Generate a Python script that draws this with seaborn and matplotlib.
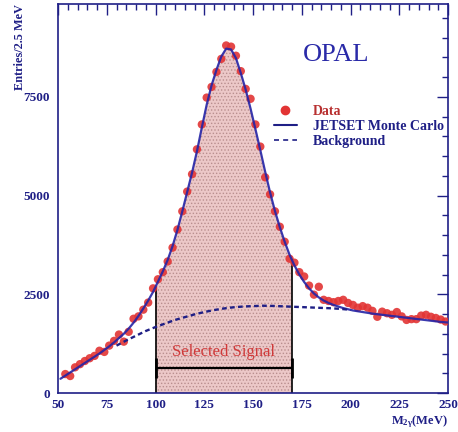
import numpy as np
import pandas as pd
import matplotlib
matplotlib.use("Agg")
import matplotlib.pyplot as plt
import seaborn as sns
from matplotlib.lines import Line2D
from matplotlib.legend_handler import HandlerLine2D
from matplotlib.ticker import MultipleLocator

# ---- data -----------------------------------------------------------------
BIN_WIDTH = 2.5                      # MeV per bin
data_x = np.arange(53.75, 250.0, BIN_WIDTH)
data_y = [
    480, 430, 650, 730, 810, 880, 940, 1070, 1040, 1200,
    1320, 1480, 1300, 1550, 1880, 1940, 2110, 2290, 2650, 2880,
    3060, 3330, 3680, 4140, 4600, 5100, 5540, 6170, 6800, 7480,
    7750, 8130, 8460, 8800, 8770, 8540, 8150, 7700, 7450, 6800,
    6240, 5460, 5030, 4600, 4210, 3830, 3400, 3300, 3060, 2950,
    2720, 2490, 2690, 2360, 2330, 2300, 2330, 2360, 2280, 2230,
    2160, 2200, 2160, 2080, 1930, 2060, 2020, 1980, 2050, 1940,
    1850, 1870, 1870, 1960, 1980, 1930, 1900, 1860, 1810,
]

mc_x = np.append(np.arange(51.25, 250.0, BIN_WIDTH), 250.0)
mc_y = [
    360, 440, 520, 600, 680, 760, 840, 920, 1000, 1090,
    1180, 1280, 1390, 1500, 1630, 1780, 1950, 2140, 2340, 2560,
    2820, 3080, 3370, 3720, 4130, 4600, 5090, 5580, 6120, 6720,
    7300, 7790, 8180, 8520, 8720, 8700, 8480, 8100, 7680, 7200,
    6680, 6150, 5600, 5080, 4610, 4200, 3830, 3500, 3230, 3000,
    2810, 2650, 2520, 2420, 2340, 2280, 2230, 2190, 2150, 2120,
    2090, 2070, 2050, 2030, 2010, 1995, 1980, 1965, 1950, 1935,
    1920, 1905, 1890, 1875, 1860, 1845, 1830, 1815, 1800, 1790,
    1785,
]

bkg_x = np.arange(80, 201, 5)
bkg_y = [
    1200, 1330, 1450, 1570, 1670, 1760, 1850, 1920, 1990, 2050,
    2100, 2140, 2170, 2190, 2200, 2210, 2205, 2195, 2185, 2175,
    2165, 2155, 2145, 2130, 2105,
]

signal_window = (100, 170)           # selected M_2gamma range (MeV)
legend_labels = ["Data", "JETSET Monte Carlo", "Background"]

x_ticks = [50, 75, 100, 125, 150, 175, 200, 225, 250]
y_ticks = [0, 2500, 5000, 7500]

# ---- style ----------------------------------------------------------------
NAVY = "#1f1f86"
BLUE = "#2424a6"
RED = "#e23434"

sns.set_theme(style="white")
plt.rcParams["font.family"] = ["Liberation Serif", "DejaVu Serif"]
plt.rcParams["mathtext.fontset"] = "custom"
plt.rcParams["mathtext.rm"] = "Liberation Serif:bold"
plt.rcParams["mathtext.it"] = "Liberation Serif:bold"
plt.rcParams["mathtext.bf"] = "Liberation Serif:bold"
plt.rcParams["hatch.linewidth"] = 0.6

df_data = pd.DataFrame({"m": data_x, "n": data_y})
df_mc = pd.DataFrame({"m": mc_x, "n": mc_y})
df_bkg = pd.DataFrame({"m": bkg_x, "n": bkg_y})

fig = plt.figure(figsize=(4.58, 4.32), dpi=100)
ax = fig.add_axes([58 / 458, 1 - 393 / 432, 390 / 458, 389 / 432])

# shaded signal region under the Monte Carlo curve
lo, hi = signal_window
mc_x_arr = np.asarray(mc_x, float)
mc_y_arr = np.asarray(mc_y, float)
inside = (mc_x_arr > lo) & (mc_x_arr < hi)
fx = np.concatenate([[lo], mc_x_arr[inside], [hi]])
fy = np.interp(fx, mc_x_arr, mc_y_arr)
ax.fill_between(fx, 0, fy, facecolor="#ecc8c8", hatch=".....",
                edgecolor="#b98f8f", linewidth=0, zorder=1)
ax.vlines([lo, hi], 0, np.interp([lo, hi], mc_x_arr, mc_y_arr),
          color="black", lw=1.2, zorder=2)

# data, total MC and background
sns.scatterplot(data=df_data, x="m", y="n", ax=ax, color=RED, s=36,
                edgecolor="none", alpha=0.9, zorder=3, legend=False)
sns.lineplot(data=df_mc, x="m", y="n", ax=ax, color=BLUE, lw=1.6,
             errorbar=None, alpha=0.9, zorder=4)
sns.lineplot(data=df_bkg, x="m", y="n", ax=ax, color=NAVY, lw=1.7,
             errorbar=None, linestyle=(0, (2.0, 1.4)), zorder=4)

# selected-signal marker
mid = 0.5 * (lo + hi)
ax.errorbar(mid, 640, xerr=0.5 * (hi - lo), fmt="none", ecolor="black",
            elinewidth=1.6, capsize=7, capthick=2.0, zorder=5)
ax.text(mid, 1040, "Selected Signal", ha="center", va="center",
        color="#d03a3a", fontsize=12, zorder=6)

ax.text(192.8, 8550, "OPAL", ha="center", va="center", color="#2a2aa8",
        fontsize=19)

# axes
ax.set_xlim(50, 250)
ax.set_ylim(0, 9850)
ax.set_xticks(x_ticks)
ax.set_yticks(y_ticks)
ax.xaxis.set_minor_locator(MultipleLocator(5))
ax.yaxis.set_minor_locator(MultipleLocator(500))
ax.tick_params(which="both", direction="in", top=True, right=True,
               color=NAVY, width=1.0, labelcolor=NAVY, labelsize=9.5)
ax.tick_params(which="major", length=8)
ax.tick_params(which="minor", length=4)
ax.tick_params(axis="x", which="major", pad=4)
ax.tick_params(axis="y", which="major", pad=6)
for lab in ax.get_xticklabels() + ax.get_yticklabels():
    lab.set_fontweight("bold")
for sp in ax.spines.values():
    sp.set_color(NAVY)
    sp.set_linewidth(1.2)

ax.set_ylabel("Entries/2.5 MeV", loc="top", color=NAVY, fontsize=8.8,
              fontweight="bold")
ax.yaxis.set_label_coords(-0.082, 1.0)
ax.set_xlabel(r"M$_{2\gamma}$(MeV)", loc="right", color=NAVY, fontsize=9,
              fontweight="bold")
ax.xaxis.set_label_coords(1.0, -0.052)


class MarkerAtEnd(HandlerLine2D):
    def get_xdata(self, legend, xdescent, ydescent, width, height, fontsize):
        return [-xdescent, -xdescent + width], [-xdescent + width]


h_data = Line2D([], [], marker="o", ls="none", color=RED, markersize=6)
h_mc = Line2D([], [], color=NAVY, lw=1.5)
h_bkg = Line2D([], [], color=NAVY, lw=1.2, ls=(0, (3, 2.5)))
leg = ax.legend([h_data, h_mc, h_bkg], legend_labels, loc="upper left",
                bbox_to_anchor=(0.553, 0.741), frameon=False,
                handlelength=1.7, handletextpad=1.1, labelspacing=0.15,
                borderpad=0, borderaxespad=0,
                prop={"weight": "bold", "size": 10},
                handler_map={h_data: MarkerAtEnd()})
for txt, col in zip(leg.get_texts(), ["#b83030", NAVY, NAVY]):
    txt.set_color(col)

fig.savefig("out.png", dpi=100, facecolor="white")
